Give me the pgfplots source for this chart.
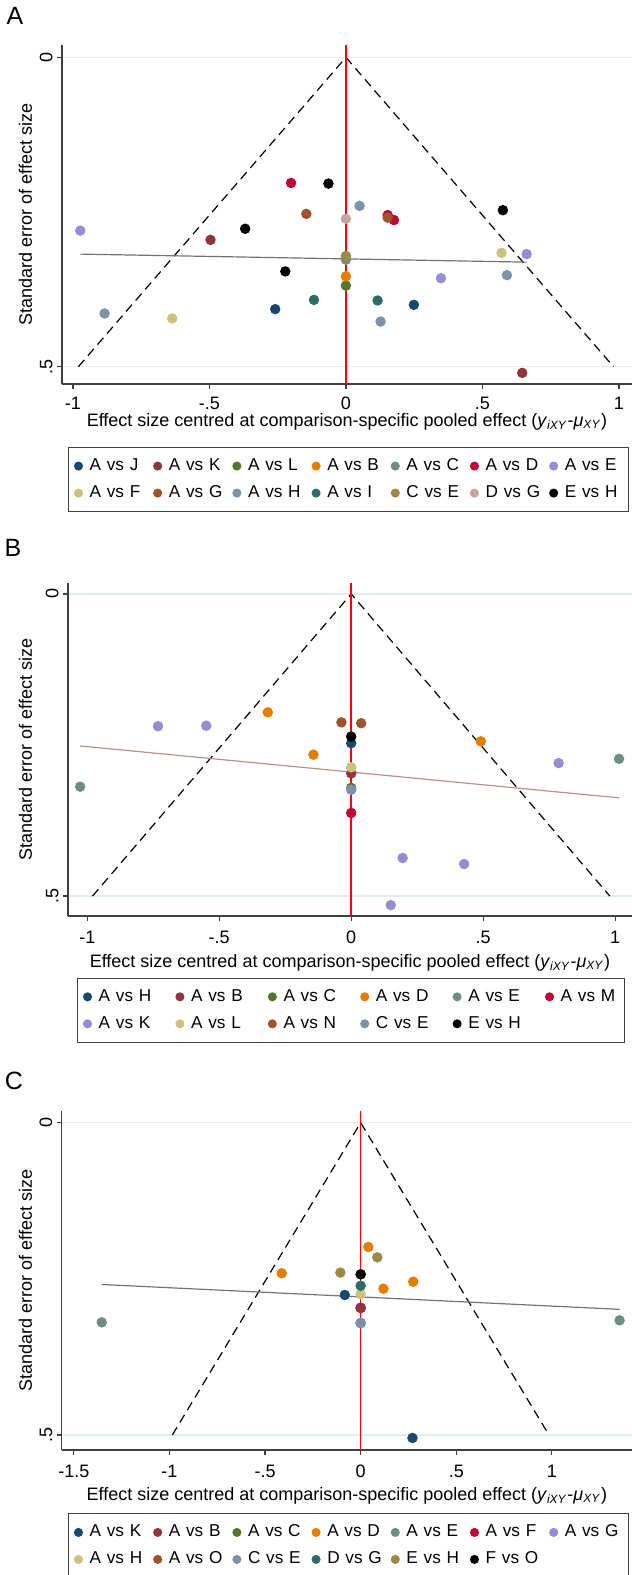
\documentclass[border=0pt]{standalone}
\usepackage{fontspec}
\setmainfont{Liberation Sans}
\usepackage{pgfplots}
\pgfplotsset{compat=1.18}

% Stata s2color palette
\definecolor{snavy}{RGB}{26,71,111}
\definecolor{smaroon}{RGB}{144,53,59}
\definecolor{sgreen}{RGB}{85,117,47}
\definecolor{sorange}{RGB}{227,126,0}
\definecolor{steal}{RGB}{110,142,132}
\definecolor{scran}{RGB}{193,5,52}
\definecolor{slav}{RGB}{147,141,210}
\definecolor{skhaki}{RGB}{202,194,126}
\definecolor{ssienna}{RGB}{160,82,45}
\definecolor{sblue}{RGB}{123,146,168}
\definecolor{semerald}{RGB}{45,109,102}
\definecolor{sbrown}{RGB}{156,136,71}
\definecolor{serose}{RGB}{196,166,160}
\definecolor{gridc}{RGB}{226,238,240}
\definecolor{fitrose}{RGB}{185,145,140}

\pgfplotsset{
  funnel/.style={
    scale only axis,
    y dir=reverse,
    axis x line*=bottom, axis y line*=left,
    axis line style={black!75, line width=0.6pt},
    tick align=outside, major tick length=2.5pt,
    tick style={black!75, line width=0.6pt},
    ytick={0,0.5}, yticklabels={0,.5},
    yticklabel style={rotate=90, anchor=south, inner sep=2pt},
    xticklabel style={inner sep=4pt},
    ymajorgrids, grid style={gridc, line width=0.6pt},
    font=\fontsize{9}{10.8}\selectfont,
    /pgf/number format/assume math mode=true,
    ylabel={Standard error of effect size},
    xlabel={Effect size centred at comparison-specific pooled effect (\textit{y}\textsubscript{\textit{iXY}}-\textit{μ}\textsubscript{\textit{XY}})},
    xlabel style={at={(axis description cs:0.5,0)}, anchor=center, yshift=-19pt},
    legend cell align=left,
    legend style={draw=black!75, line width=0.5pt, anchor=north west,
      inner xsep=3pt, inner ysep=5.5pt,
      row sep=6pt,
      nodes={font=\fontsize{8.6}{10}\selectfont, text width=29pt, inner sep=0pt},
      /tikz/every odd column/.append style={column sep=3.6pt},
      /tikz/every even column/.append style={column sep=3pt}},
    legend image code/.code={\draw[##1, mark size=2pt] plot coordinates {(0pt,0pt)};},
  },
  pt/.style={only marks, mark=*, mark size=2.4pt, color=#1},
  funl/.style={black, line width=0.6pt, dash pattern=on 4.5pt off 2.8pt, forget plot},
  zerol/.style={red, line width=0.7pt, forget plot},
  fitl/.style={#1, line width=0.6pt, forget plot},
}

\begin{document}
\begin{tikzpicture}
\useasboundingbox (0,0) rectangle (316pt,-787.5pt);

\node[font=\fontsize{12.5}{14}\selectfont] at (7.5pt,-8pt) {A};
\node[font=\fontsize{12.5}{14}\selectfont] at (6.5pt,-274pt) {B};
\node[font=\fontsize{12.5}{14}\selectfont] at (7pt,-540.5pt) {C};

% ---------------- Panel A
\begin{axis}[funnel,
  at={(31pt,-192pt)}, anchor=south west,
  width=285pt, height=169.5pt,
  xmin=-1.04, xmax=1.048, ymin=-0.02, ymax=0.528,
  xtick={-1,-0.5,0,0.5,1}, xticklabels={-1,-.5,0,.5,1},
  ylabel style={at={(axis description cs:-0.064,0.5)}, anchor=center},
  legend columns=7,
  legend style={at={(0.0105,-0.186)}},
]
\addplot[funl] coordinates {(-0.98,0.5) (0,0) (0.98,0.5)};
\addplot[fitl=black!55] coordinates {(-0.973,0.318) (0.662,0.331)};
\addplot[zerol] coordinates {(0,-0.02) (0,0.528)};
\addplot[pt=snavy] coordinates {(-0.259,0.407) (0.249,0.400)};
\addlegendentry{A vs J}
\addplot[pt=smaroon] coordinates {(-0.496,0.295) (0.646,0.510)};
\addlegendentry{A vs K}
\addplot[pt=sgreen] coordinates {(0,0.369)};
\addlegendentry{A vs L}
\addplot[pt=sorange] coordinates {(0,0.354)};
\addlegendentry{A vs B}
\addplot[pt=steal] coordinates {(0,0.327)};
\addlegendentry{A vs C}
\addplot[pt=scran] coordinates {(-0.201,0.203) (0.153,0.255) (0.176,0.263)};
\addlegendentry{A vs D}
\addplot[pt=slav] coordinates {(-0.973,0.280) (0.348,0.357) (0.662,0.318)};
\addlegendentry{A vs E}
\addplot[pt=skhaki] coordinates {(-0.636,0.422) (0.570,0.316)};
\addlegendentry{A vs F}
\addplot[pt=ssienna] coordinates {(-0.145,0.253) (0.153,0.259)};
\addlegendentry{A vs G}
\addplot[pt=sblue] coordinates {(-0.884,0.414) (0.050,0.240) (0.127,0.427) (0.590,0.352)};
\addlegendentry{A vs H}
\addplot[pt=semerald] coordinates {(-0.117,0.392) (0.116,0.393)};
\addlegendentry{A vs I}
\addplot[pt=sbrown] coordinates {(0,0.321)};
\addlegendentry{C vs E}
\addplot[pt=serose] coordinates {(0,0.261)};
\addlegendentry{D vs G}
\addplot[pt=black] coordinates {(-0.369,0.277) (-0.222,0.346) (-0.064,0.204) (0.575,0.247)};
\addlegendentry{E vs H}
\end{axis}

% ---------------- Panel B
\begin{axis}[funnel,
  at={(34pt,-458pt)}, anchor=south west,
  width=282pt, height=166.5pt,
  xmin=-1.073, xmax=1.064, ymin=-0.018, ymax=0.533,
  xtick={-1,-0.5,0,0.5,1}, xticklabels={-1,-.5,0,.5,1},
  xticklabel style={yshift=-1pt},
  xlabel style={yshift=-4.5pt},
  ylabel style={at={(axis description cs:-0.0754,0.5)}, anchor=center},
  legend columns=6,
  legend style={at={(0.016,-0.1856)},
    /tikz/every even column/.append style={column sep=9.6pt}},
]
\addplot[funl] coordinates {(-0.98,0.5) (0,0) (0.98,0.5)};
\addplot[fitl=fitrose] coordinates {(-1.027,0.2516) (1.015,0.3375)};
\addplot[zerol] coordinates {(0,-0.018) (0,0.533)};
\addplot[pt=snavy] coordinates {(0,0.247)};
\addlegendentry{A vs H}
\addplot[pt=smaroon] coordinates {(0,0.297)};
\addlegendentry{A vs B}
\addplot[pt=sgreen] coordinates {(0,0.321)};
\addlegendentry{A vs C}
\addplot[pt=sorange] coordinates {(-0.316,0.196) (-0.143,0.266) (0.491,0.244)};
\addlegendentry{A vs D}
\addplot[pt=steal] coordinates {(-1.027,0.319) (1.015,0.273)};
\addlegendentry{A vs E}
\addplot[pt=scran] coordinates {(0,0.3625)};
\addlegendentry{A vs M}
\addplot[pt=slav] coordinates {(-0.732,0.219) (-0.549,0.218) (0.150,0.515) (0.195,0.437) (0.428,0.447) (0.786,0.280)};
\addlegendentry{A vs K}
\addplot[pt=skhaki] coordinates {(0,0.287)};
\addlegendentry{A vs L}
\addplot[pt=ssienna] coordinates {(-0.037,0.2125) (0.038,0.214)};
\addlegendentry{A vs N}
\addplot[pt=sblue] coordinates {(0,0.324)};
\addlegendentry{C vs E}
\addplot[pt=black] coordinates {(0,0.236)};
\addlegendentry{E vs H}
\end{axis}

% ---------------- Panel C
\begin{axis}[funnel,
  at={(30.8pt,-725pt)}, anchor=south west,
  width=285.2pt, height=169.5pt,
  xmin=-1.564, xmax=1.419, ymin=-0.0187, ymax=0.524,
  xtick={-1.5,-1,-0.5,0,0.5,1}, xticklabels={-1.5,-1,-.5,0,.5,1},
  xticklabel style={yshift=-1pt},
  xlabel style={yshift=-4pt},
  ylabel style={at={(axis description cs:-0.0633,0.5)}, anchor=center},
  legend columns=7,
  legend style={at={(0.0112,-0.187)}},
]
\addplot[funl] coordinates {(-0.985,0.5) (0,0) (0.985,0.5)};
\addplot[fitl=black!55] coordinates {(-1.354,0.259) (1.354,0.2988)};
\addplot[zerol] coordinates {(0,-0.0187) (0,0.524)};
\addplot[pt=snavy] coordinates {(-0.083,0.2758) (0.271,0.5047)};
\addlegendentry{A vs K}
\addplot[pt=smaroon] coordinates {(0,0.2965)};
\addlegendentry{A vs B}
\addplot[pt=sgreen] coordinates {(0,0.3207)};
\addlegendentry{A vs C}
\addplot[pt=sorange] coordinates {(-0.413,0.241) (0.040,0.199) (0.119,0.2657) (0.275,0.2545)};
\addlegendentry{A vs D}
\addplot[pt=steal] coordinates {(-1.354,0.3196) (1.354,0.3164)};
\addlegendentry{A vs E}
\addplot[pt=scran] coordinates {(0,0.2965)};
\addlegendentry{A vs F}
\addplot[pt=slav] coordinates {(0,0.3207)};
\addlegendentry{A vs G}
\addplot[pt=skhaki] coordinates {(0,0.2747)};
\addlegendentry{A vs H}
\addplot[pt=ssienna] coordinates {(0,0.2427)};
\addlegendentry{A vs O}
\addplot[pt=sblue] coordinates {(0,0.3207)};
\addlegendentry{C vs E}
\addplot[pt=semerald] coordinates {(0,0.261)};
\addlegendentry{D vs G}
\addplot[pt=sbrown] coordinates {(-0.106,0.240) (0.087,0.2155)};
\addlegendentry{E vs H}
\addplot[pt=black] coordinates {(0,0.2427)};
\addlegendentry{F vs O}
\addplot[pt=smaroon, forget plot] coordinates {(0,0.2965)};
\end{axis}
\end{tikzpicture}
\end{document}
